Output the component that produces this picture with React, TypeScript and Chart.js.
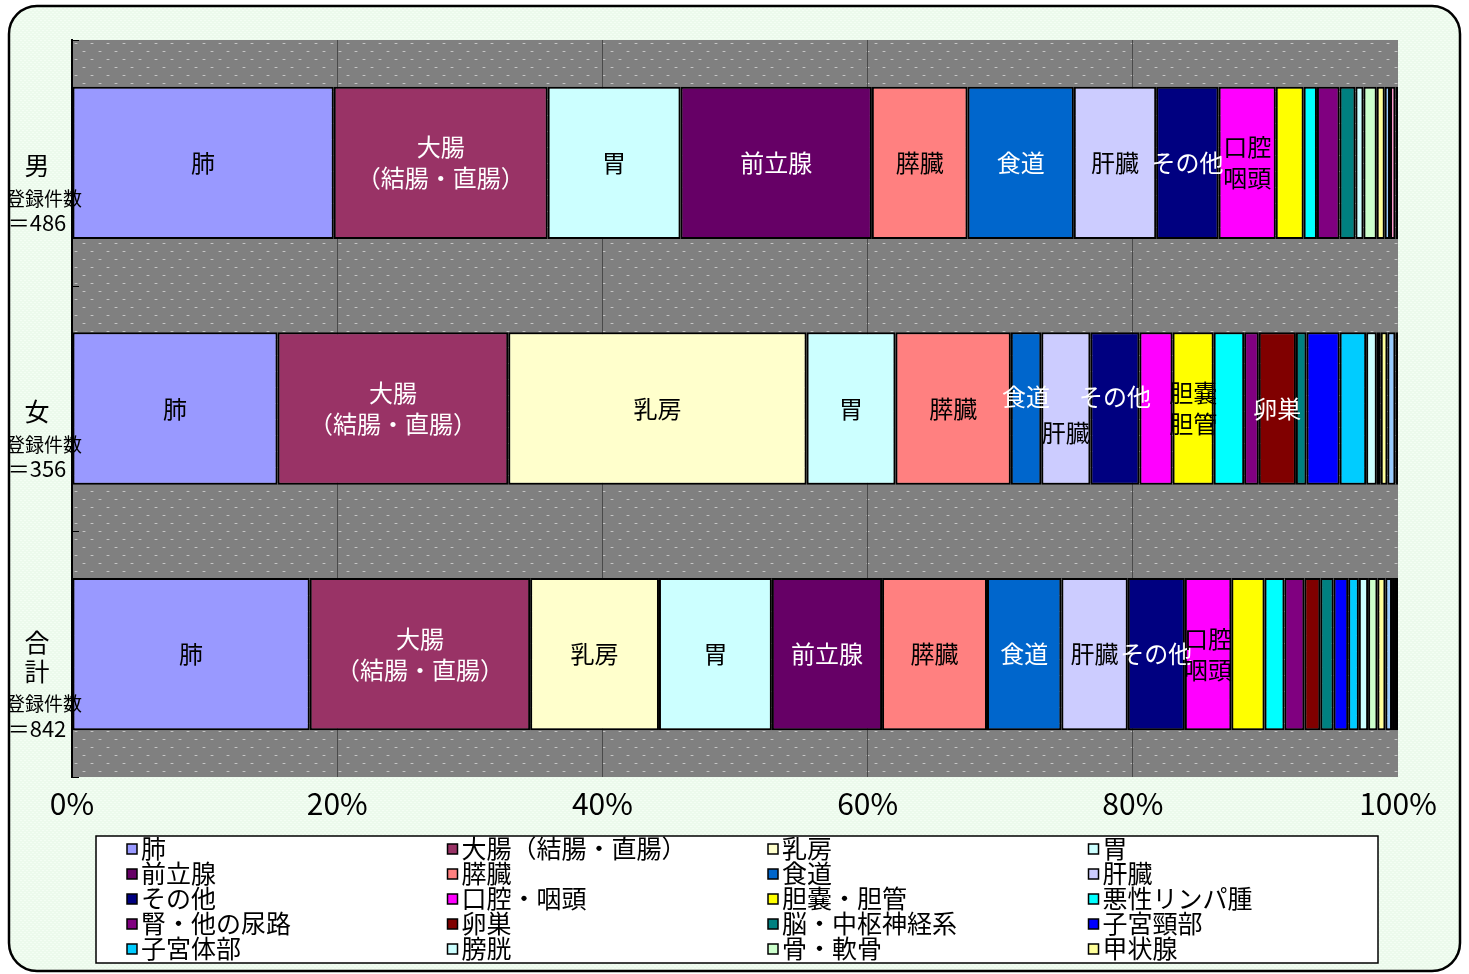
import React, { useEffect, useRef } from 'react';
import { Chart, registerables } from 'chart.js';

Chart.register(...registerables);

// ---------- data ----------
const categories = ['男', '女', '合計'];
const categoryLines = [['男'], ['女'], ['合', '計']];
const registeredCounts = [486, 356, 842];
const xTicks = [0, 20, 40, 60, 80, 100];

const seriesNames = [
  '肺', '大腸（結腸・直腸）', '乳房', '胃',
  '前立腺', '膵臓', '食道', '肝臓',
  'その他', '口腔・咽頭', '胆嚢・胆管', '悪性リンパ腫',
  '腎・他の尿路', '卵巣', '脳・中枢神経系', '子宮頸部',
  '子宮体部', '膀胱', '骨・軟骨', '甲状腺',
  '', '', '',
];

const seriesColors = [
  '#9999FF', '#993366', '#FFFFCC', '#CCFFFF',
  '#660066', '#FF8080', '#0066CC', '#CCCCFF',
  '#000080', '#FF00FF', '#FFFF00', '#00FFFF',
  '#800080', '#800000', '#008080', '#0000FF',
  '#00CCFF', '#CCFFFF', '#CCFFCC', '#FFFF99',
  '#99CCFF', '#FF99CC', '#1A1A1A',
];

// percentages per category [男, 女, 合計]
const lung = [19.7, 15.5, 17.9];
const colorectum = [16.1, 17.4, 16.6];
const breast = [0, 22.5, 9.7];
const stomach = [10.0, 6.7, 8.5];
const prostate = [14.4, 0, 8.3];
const pancreas = [7.2, 8.7, 7.9];
const esophagus = [8.0, 2.3, 5.6];
const liver = [6.2, 3.7, 5.0];
const others = [4.7, 3.7, 4.3];
const oralPharynx = [4.3, 2.5, 3.5];
const gallbladder = [2.1, 3.1, 2.5];
const lymphoma = [1.0, 2.3, 1.5];
const kidney = [1.7, 1.1, 1.5];
const ovary = [0, 2.8, 1.2];
const brain = [1.2, 0.8, 1.0];
const cervix = [0, 2.5, 1.1];
const corpus = [0, 2.0, 0.8];
const bladder = [0.6, 0.8, 0.7];
const bone = [1.0, 0.3, 0.7];
const thyroid = [0.6, 0.5, 0.6];
const extraA = [0.4, 0.6, 0.5];
const extraB = [0.4, 0, 0.15];
const extraC = [0.2, 0.2, 0.3];

const seriesValues = [
  lung, colorectum, breast, stomach, prostate, pancreas, esophagus, liver,
  others, oralPharynx, gallbladder, lymphoma, kidney, ovary, brain, cervix,
  corpus, bladder, bone, thyroid, extraA, extraB, extraC,
];

// which segment labels are shown per category (series indices)
const shownLabels = [
  [0, 1, 3, 4, 5, 6, 7, 8, 9],
  [0, 1, 2, 3, 5, 6, 7, 8, 10, 13],
  [0, 1, 2, 3, 4, 5, 6, 7, 8, 9],
];
const labelText: Record<number, string[]> = {
  1: ['大腸', '（結腸・直腸）'],
  9: ['口腔', '咽頭'],
  10: ['胆嚢', '胆管'],
};
const whiteLabelSeries = [1, 4, 6, 8, 13];
// vertical label shifts (female bar, overlapping labels)
const labelShift: Record<string, number> = { '1-6': -12, '1-7': 24, '1-8': -12 };

const FONT = '"Noto Sans CJK JP", "Noto Sans", sans-serif';

function makeGrayPattern(ctx: CanvasRenderingContext2D) {
  const c = document.createElement('canvas');
  c.width = 16; c.height = 16;
  const g = c.getContext('2d')!;
  g.fillStyle = '#808080';
  g.fillRect(0, 0, 16, 16);
  const dot = (x: number, y: number) => {
    g.fillStyle = '#9c9c9c';
    g.fillRect(x, y, 4, 1);
    g.fillStyle = '#c4c4c4';
    g.fillRect(x + 1, y, 2, 1);
  };
  dot(2, 3);
  dot(10, 11);
  return ctx.createPattern(c, 'repeat')!;
}

function makeGreenPattern(ctx: CanvasRenderingContext2D) {
  const c = document.createElement('canvas');
  c.width = 4; c.height = 4;
  const g = c.getContext('2d')!;
  g.fillStyle = '#ECFAEC';
  g.fillRect(0, 0, 4, 4);
  g.fillStyle = '#F4FEF4';
  g.fillRect(0, 0, 2, 1);
  g.fillRect(2, 2, 2, 1);
  return ctx.createPattern(c, 'repeat')!;
}

function roundRectPath(ctx: CanvasRenderingContext2D, x: number, y: number, w: number, h: number, r: number) {
  ctx.beginPath();
  ctx.moveTo(x + r, y);
  ctx.lineTo(x + w - r, y);
  ctx.arcTo(x + w, y, x + w, y + r, r);
  ctx.lineTo(x + w, y + h - r);
  ctx.arcTo(x + w, y + h, x + w - r, y + h, r);
  ctx.lineTo(x + r, y + h);
  ctx.arcTo(x, y + h, x, y + h - r, r);
  ctx.lineTo(x, y + r);
  ctx.arcTo(x, y, x + r, y, r);
  ctx.closePath();
}

export default function App() {
  const ref = useRef<HTMLCanvasElement>(null);

  useEffect(() => {
    document.body.style.margin = '0';
    const canvas = ref.current!;
    const ctx = canvas.getContext('2d')!;
    const grayPattern = makeGrayPattern(ctx);
    const greenPattern = makeGreenPattern(ctx);

    const totals = categories.map((_, i) => seriesValues.reduce((s, arr) => s + arr[i], 0));
    const datasets = seriesNames.map((name, k) => ({
      label: name,
      data: seriesValues[k].map((v, i) => (v / totals[i]) * 100),
      backgroundColor: seriesColors[k],
      borderColor: '#000000',
      borderWidth: 2,
      borderSkipped: false as const,
      barPercentage: 0.62,
      categoryPercentage: 1,
    }));

    const frame = { x: 9, y: 6, w: 1451, h: 965, r: 28 };

    const backgroundPlugin = {
      id: 'bgPlugin',
      beforeDraw(chart: any) {
        const c = chart.ctx as CanvasRenderingContext2D;
        const a = chart.chartArea;
        c.save();
        c.fillStyle = '#FFFFFF';
        c.fillRect(0, 0, chart.width, chart.height);
        roundRectPath(c, frame.x, frame.y, frame.w, frame.h, frame.r);
        c.fillStyle = greenPattern;
        c.fill();
        c.translate(a.left, a.top);
        c.fillStyle = grayPattern;
        c.fillRect(0, 0, a.right - a.left, a.bottom - a.top);
        c.restore();
      },
    };

    const overlayPlugin = {
      id: 'overlayPlugin',
      afterDatasetsDraw(chart: any) {
        const c = chart.ctx as CanvasRenderingContext2D;
        const a = chart.chartArea;
        const yScale = chart.scales.y;
        c.save();

        // segment labels
        c.textAlign = 'center';
        c.textBaseline = 'middle';
        c.font = `24px ${FONT}`;
        shownLabels.forEach((list, ci) => {
          list.forEach((si) => {
            const el = chart.getDatasetMeta(si).data[ci];
            if (!el) return;
            const cx = (el.x + el.base) / 2;
            const cy = el.y + (labelShift[`${ci}-${si}`] || 0);
            const lines = labelText[si] || [seriesNames[si]];
            c.fillStyle = whiteLabelSeries.includes(si) ? '#FFFFFF' : '#000000';
            const lh = 31;
            lines.forEach((t, li) => {
              c.fillText(t, cx, cy + (li - (lines.length - 1) / 2) * lh);
            });
          });
        });

        // small tick marks on the category axis
        c.strokeStyle = '#000000';
        c.lineWidth = 1;
        for (let i = 0; i <= categories.length; i++) {
          const y = Math.round(yScale.getPixelForValue(i - 0.5)) + 0.5;
          c.beginPath();
          c.moveTo(a.left, y);
          c.lineTo(a.left + 7, y);
          c.stroke();
        }

        // category labels (clipped by frame)
        c.save();
        roundRectPath(c, frame.x, frame.y, frame.w, frame.h, frame.r);
        c.clip();
        c.fillStyle = '#000000';
        categories.forEach((_, ci) => {
          const cy = yScale.getPixelForValue(ci);
          const lines = categoryLines[ci];
          const start = lines.length > 1 ? -12 : 3;
          c.font = `25px ${FONT}`;
          lines.forEach((t, li) => c.fillText(t, 37, cy + start + li * 29));
          const after = cy + start + (lines.length - 1) * 29;
          c.font = `19px ${FONT}`;
          c.fillText('登録件数', 44, after + 33);
          c.font = `22px ${FONT}`;
          c.fillText('＝' + registeredCounts[ci], 37, after + 57);
        });
        c.restore();

        // legend
        const lg = { x: 96, y: 836, w: 1282, h: 127 };
        c.fillStyle = '#FFFFFF';
        c.fillRect(lg.x, lg.y, lg.w, lg.h);
        c.strokeStyle = '#000000';
        c.lineWidth = 1.5;
        c.strokeRect(lg.x, lg.y, lg.w, lg.h);
        c.font = `25px ${FONT}`;
        c.textAlign = 'left';
        c.textBaseline = 'middle';
        let k = 0;
        chart.data.datasets.forEach((ds: any) => {
          if (!ds.label) return;
          const col = k % 4;
          const row = Math.floor(k / 4);
          const x = 127 + col * 320.5;
          const y = 849 + row * 25;
          c.fillStyle = ds.backgroundColor;
          c.fillRect(x, y - 5, 10, 10);
          c.lineWidth = 1.5;
          c.strokeStyle = '#000000';
          c.strokeRect(x, y - 5, 10, 10);
          c.fillStyle = '#000000';
          c.fillText(ds.label, x + 14, y - 1);
          k++;
        });

        // outer frame stroke
        roundRectPath(c, frame.x, frame.y, frame.w, frame.h, frame.r);
        c.lineWidth = 2.5;
        c.strokeStyle = '#000000';
        c.stroke();
        c.restore();
      },
    };

    const chart = new Chart(ctx, {
      type: 'bar',
      data: { labels: categories, datasets },
      options: {
        indexAxis: 'y',
        responsive: false,
        maintainAspectRatio: false,
        devicePixelRatio: 1,
        animation: false,
        layout: { padding: { left: 64, right: 71, top: 40, bottom: 143 } },
        plugins: {
          legend: { display: false },
          tooltip: { enabled: false },
        },
        scales: {
          x: {
            stacked: true,
            min: 0,
            max: 100,
            afterBuildTicks: (s: any) => { s.ticks = xTicks.map((v) => ({ value: v })); },
            ticks: {
              callback: (v: any) => v + '%',
              color: '#000000',
              font: { family: FONT, size: 30 },
              padding: 9,
              maxRotation: 0,
            },
            grid: {
              color: (c: any) => (c.index === 0 || c.index === xTicks.length - 1 ? 'rgba(0,0,0,0)' : '#4A4A4A'),
              lineWidth: 1,
              drawTicks: false,
            },
            border: { display: false },
          },
          y: {
            stacked: true,
            ticks: { display: false },
            grid: { display: false },
            border: { display: true, color: '#000000', width: 2 },
          },
        },
      },
      plugins: [backgroundPlugin, overlayPlugin],
    });

    return () => chart.destroy();
  }, []);

  return (
    <div style={{ position: 'absolute', left: 0, top: 0, width: 1469, height: 974 }}>
      <canvas ref={ref} width={1469} height={974} style={{ display: 'block', width: 1469, height: 974 }} />
    </div>
  );
}
